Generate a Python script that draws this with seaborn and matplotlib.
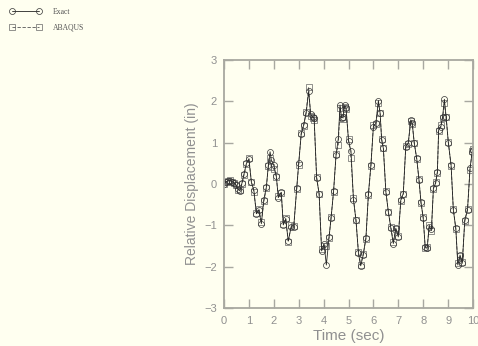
import matplotlib
matplotlib.use("Agg")
import matplotlib.pyplot as plt
import seaborn as sns
import pandas as pd

time_s = [0, 0.08, 0.16, 0.24, 0.32, 0.4, 0.48, 0.56, 0.64, 0.72, 0.8, 0.9, 1.0,
          1.1, 1.2, 1.3, 1.4, 1.5, 1.6, 1.7, 1.78, 1.85, 1.9, 2.0, 2.1, 2.18, 2.3,
          2.38, 2.48, 2.58, 2.7, 2.8, 2.92, 3.0, 3.1, 3.2, 3.3, 3.4, 3.48, 3.56,
          3.62, 3.72, 3.82, 3.92, 4.02, 4.11, 4.22, 4.3, 4.4, 4.5, 4.59, 4.66,
          4.72, 4.78, 4.84, 4.9, 5.0, 5.1, 5.2, 5.3, 5.4, 5.49, 5.59, 5.7, 5.8,
          5.9, 6.0, 6.1, 6.2, 6.27, 6.33, 6.4, 6.5, 6.6, 6.7, 6.8, 6.9, 7.0, 7.1,
          7.2, 7.3, 7.4, 7.5, 7.56, 7.64, 7.74, 7.83, 7.91, 8.0, 8.08, 8.16, 8.24,
          8.33, 8.41, 8.5, 8.57, 8.62, 8.71, 8.78, 8.85, 8.92, 9.01, 9.12, 9.21,
          9.31, 9.39, 9.48, 9.57, 9.67, 9.78, 9.88, 9.97, 10.0]

exact = [0, 0.05, 0.08, 0.08, 0.06, 0.03, -0.02, -0.12, -0.16, 0.02, 0.23, 0.5, 0.6,
         0.04, -0.15, -0.72, -0.63, -0.96, -0.38, -0.08, 0.45, 0.78, 0.58, 0.45,
         0.2, -0.33, -0.2, -0.99, -0.85, -1.38, -1.03, -1.05, -0.1, 0.5, 1.2, 1.43,
         1.72, 2.24, 1.7, 1.62, 1.6, 0.14, -0.23, -1.62, -1.45, -1.96, -1.28, -0.83,
         -0.17, 0.7, 1.1, 1.91, 1.6, 1.62, 1.9, 1.85, 1.05, 0.8, -0.39, -0.87, -1.68,
         -1.98, -1.72, -1.3, -0.23, 0.46, 1.39, 1.47, 2.02, 1.71, 1.07, 0.86, -0.19,
         -0.67, -1.07, -1.44, -1.07, -1.28, -0.39, -0.23, 0.9, 0.99, 1.55, 1.47,
         0.99, 0.62, 0.1, -0.43, -0.83, -1.52, -1.56, -1.03, -1.1, -0.1, 0.02, 0.3,
         1.31, 1.39, 1.63, 2.05, 1.63, 0.99, 0.46, -0.63, -1.07, -1.96, -1.72, -1.92,
         -0.87, -0.63, 0.38, 0.78, 0.82]

abaqus = [0, 0.04, 0.07, 0.09, 0.05, 0.02, -0.03, -0.14, -0.15, 0.0, 0.21, 0.48, 0.62,
          0.06, -0.19, -0.7, -0.6, -0.93, -0.42, -0.1, 0.43, 0.62, 0.4, 0.36, 0.18,
          -0.3, -0.21, -0.96, -0.83, -1.4, -1.0, -1.02, -0.13, 0.47, 1.23, 1.4, 1.75,
          2.34, 1.65, 1.6, 1.55, 0.18, -0.25, -1.58, -1.5, -1.5, -1.3, -0.8, -0.2,
          0.72, 0.95, 1.85, 1.62, 1.58, 1.87, 1.82, 1.08, 0.62, -0.35, -0.88, -1.65,
          -1.95, -1.7, -1.33, -0.27, 0.43, 1.42, 1.45, 1.95, 1.72, 1.1, 0.88, -0.16,
          -0.68, -1.03, -1.4, -1.1, -1.25, -0.42, -0.25, 0.92, 0.97, 1.52, 1.45, 1.0,
          0.6, 0.12, -0.46, -0.8, -1.55, -1.53, -1.0, -1.13, -0.12, 0.05, 0.27, 1.28,
          1.42, 1.6, 1.95, 1.62, 1.02, 0.43, -0.6, -1.1, -1.92, -1.75, -1.88, -0.9,
          -0.6, 0.35, 0.8, 0.85]

x_ticks = [0, 1, 2, 3, 4, 5, 6, 7, 8, 9, 10]
y_ticks = [-3, -2, -1, 0, 1, 2, 3]

bg = "#fffff0"
grey = "#a8a8a0"
sns.set_style("white")
plt.rcParams["font.family"] = ["Liberation Sans", "DejaVu Sans"]

fig = plt.figure(figsize=(4.78, 3.46), dpi=100, facecolor=bg)
ax = fig.add_axes([224 / 478, 1 - 308 / 346, 249 / 478, 248 / 346])
ax.set_facecolor(bg)

df_e = pd.DataFrame({"t": time_s, "v": exact})
df_a = pd.DataFrame({"t": time_s, "v": abaqus})

sns.lineplot(data=df_a, x="t", y="v", ax=ax, sort=False, estimator=None,
             color="#555555", lw=0.6, linestyle=(0, (4, 2)), marker="s",
             markersize=4.3, markerfacecolor="none", markeredgecolor="#666666",
             markeredgewidth=0.5, label="ABAQUS")
sns.lineplot(data=df_e, x="t", y="v", ax=ax, sort=False, estimator=None,
             color="#222222", lw=0.6, marker="o", markersize=4.3,
             markerfacecolor="none", markeredgecolor="#333333",
             markeredgewidth=0.5, label="Exact")

ax.set_xlim(0, 10)
ax.set_ylim(-3, 3)
ax.set_xticks(x_ticks)
ax.set_yticks(y_ticks)
ax.set_xticklabels([str(v) for v in x_ticks])
ax.set_yticklabels([str(v).replace("-", "\u2212") for v in y_ticks])
for s in ax.spines.values():
    s.set_visible(True)
    s.set_color(grey)
    s.set_linewidth(1.3)
ax.tick_params(axis="both", which="both", direction="in", length=6.5, width=1.0,
               color=grey, labelcolor="#909090", labelsize=8,
               top=True, right=True, bottom=True, left=True)
ax.tick_params(axis="x", pad=6)
ax.tick_params(axis="y", pad=5)
ax.set_xlabel("Time (sec)", fontsize=11, color="#909090", labelpad=2)
ax.set_ylabel("Relative Displacement (in)", fontsize=10, color="#909090", labelpad=4)

handles, labels = ax.get_legend_handles_labels()
ax.get_legend().remove()
order = [labels.index("Exact"), labels.index("ABAQUS")]
leg = fig.legend([handles[i] for i in order], [labels[i] for i in order],
                 loc="upper left", bbox_to_anchor=(0.005, 0.997), frameon=False,
                 numpoints=2, handlelength=4.2, handletextpad=1.5,
                 labelspacing=1.0,
                 prop={"family": "Liberation Serif", "size": 5.5})
for t in leg.get_texts():
    t.set_color("#555555")

fig.savefig("out.png", dpi=100, facecolor=bg)
